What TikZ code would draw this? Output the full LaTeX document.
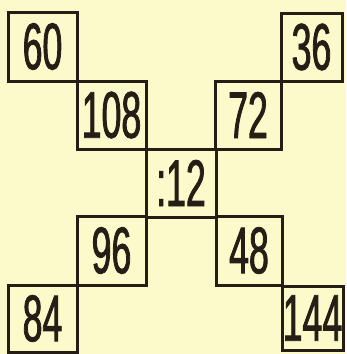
\documentclass[tikz,border=0pt]{standalone}
\usepackage{fontspec}
\newfontfamily\cellfont[FakeStretch=0.54, FakeBold=1.2]{Liberation Sans}
\definecolor{paper}{RGB}{252,250,202}
\definecolor{ink}{RGB}{38,30,22}

\begin{document}
\begin{tikzpicture}[x=1pt, y=-1pt, line width=3pt,
  cell/.style={draw=ink, text=ink, inner sep=0pt, font=\cellfont\fontsize{66}{66}\selectfont}]
  % fondo
  \fill[paper] (0,0) rectangle (346,354);
  \useasboundingbox (0,0) rectangle (346,354);
  % diagonal de arriba a la izquierda
  \node[cell, minimum width=69pt, minimum height=69pt] (c60) at (42.5,46.5) {60};
  \node[cell, minimum width=69pt, minimum height=68pt] (c108) at (111.5,115) {108};
  % diagonal de arriba a la derecha
  \node[cell, minimum width=61pt, minimum height=68pt] (c36) at (311.5,47) {36};
  \node[cell, minimum width=66pt, minimum height=68pt] (c72) at (248,115) {72};
  % centro
  \node[cell, minimum width=70pt, minimum height=68pt] (c12) at (181,183) {:12};
  % diagonal de abajo
  \node[cell, minimum width=69pt, minimum height=69pt] (c96) at (111.5,250.5) {96};
  \node[cell, minimum width=66pt, minimum height=69pt] (c48) at (249,250.5) {48};
  \node[cell, minimum width=69pt, minimum height=67pt] (c84) at (42.5,318.5) {84};
  \node[cell, minimum width=61pt, minimum height=64pt] (c144) at (312.5,318) {144};
\end{tikzpicture}
\end{document}
